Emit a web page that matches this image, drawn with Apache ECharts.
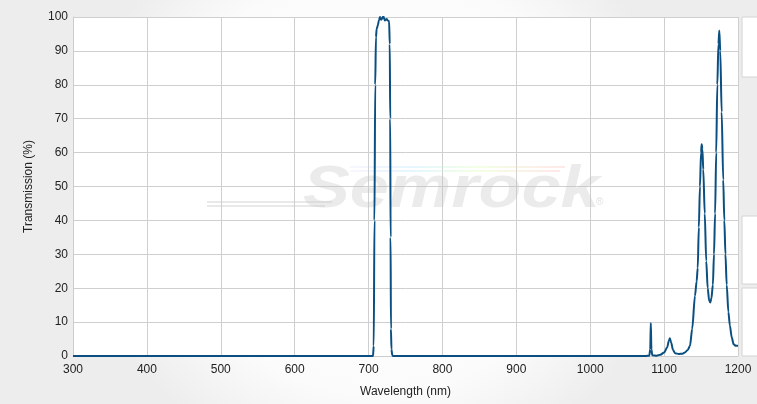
<!DOCTYPE html>
<html>
<head>
<meta charset="utf-8">
<script src="https://cdn.jsdelivr.net/npm/echarts@6/dist/echarts.min.js"></script>
<style>
html,body{margin:0;padding:0;width:757px;height:404px;overflow:hidden;}
#c{width:757px;height:404px;}
</style>
</head>
<body>
<div id="c"></div>
<script>
const wavelength = [300,700,706,707,708,709,710,711,712.5,714,715.5,717,718,720,722,724.5,726,727.8,728.7,729.3,729.8,730.3,731,732,733,
1075,1080,1081.2,1082,1082.8,1084,1090,1095,1100,1104,1106.5,1107.8,1109.5,1112,1115,1120,1125,1128,1132,1135,1138,1141.8,1144,1145.5,1147,1148.5,1150,1150.8,1151.8,1153,1155,1157,1159,1161,1162.5,1164,1166,1167.5,1169,1170.5,1172,1173.5,1174.7,1176,1177.9,1180,1181.5,1183,1184.7,1187,1189,1191.5,1194,1197,1200];
const transmission = [0,0,0,3,40,80,94,96.5,97.5,99,100,99.2,99.4,100.2,99,99.4,99,98.8,92,70,35,8,2,0.3,0,
0,0.1,2,9.7,2,0.2,0.1,0.4,1,2.5,4.5,5.2,4,1.8,0.8,0.6,0.7,1,1.8,3,8,17.8,22,26,38,50,60,62.5,61,55,42,28,20,16.3,15.8,17,21,30,42,60,80,92,96,90,72,52,40,30,21,13,9,5.5,3.5,3,3];
const xTicks = {min:300, max:1200, interval:100};
const yTicks = {min:0, max:100, interval:10};

const data = wavelength.map((w,i)=>[w, transmission[i]]);
const chart = echarts.init(document.getElementById('c'));
const rainbow = {type:'linear',x:0,y:0,x2:1,y2:0,colorStops:[{offset:0,color:'rgba(200,200,255,0.15)'},{offset:0.3,color:'rgba(180,230,255,0.35)'},{offset:0.6,color:'rgba(220,255,180,0.35)'},{offset:1,color:'rgba(255,190,190,0.35)'}]};
chart.setOption({
  animation:false,
  backgroundColor:{type:'radial',x:0.5,y:0.45,r:0.75,colorStops:[{offset:0,color:'#ffffff'},{offset:0.7,color:'#fbfbfb'},{offset:1,color:'#ededed'}]},
  grid:{left:73,right:19,top:17,bottom:48,show:true,backgroundColor:'#ffffff',borderWidth:0},
  graphic:[
    {type:'rect',shape:{x:742,y:17,width:30,height:60},style:{fill:'#ffffff',stroke:'#d4d4d4',lineWidth:1},silent:true},
    {type:'rect',shape:{x:742,y:216,width:30,height:68},style:{fill:'#ffffff',stroke:'#d4d4d4',lineWidth:1},silent:true},
    {type:'rect',shape:{x:742,y:288,width:30,height:68},style:{fill:'#ffffff',stroke:'#d4d4d4',lineWidth:1},silent:true},
    {type:'text',x:303,y:160,scaleX:1.17,z:1,silent:true,style:{text:'Semrock',font:'italic bold 60px "Liberation Sans", Arial, sans-serif',fill:'rgba(195,195,195,0.33)'}},
    {type:'text',x:596,y:197,z:1,silent:true,style:{text:'®',font:'10px "Liberation Sans", Arial, sans-serif',fill:'rgba(195,195,195,0.5)'}},
    {type:'rect',z:1,silent:true,shape:{x:207,y:201,width:125,height:2},style:{fill:'rgba(200,200,200,0.4)'}},
    {type:'rect',z:1,silent:true,shape:{x:207,y:205,width:118,height:2},style:{fill:'rgba(200,200,200,0.4)'}},
    {type:'rect',z:1,silent:true,shape:{x:350,y:166,width:215,height:2},style:{fill:rainbow}},
    {type:'rect',z:1,silent:true,shape:{x:350,y:170,width:210,height:2},style:{fill:rainbow}}
  ],
  xAxis:{type:'value',min:xTicks.min,max:xTicks.max,interval:xTicks.interval,
    name:'Wavelength (nm)',nameLocation:'middle',nameGap:30,
    nameTextStyle:{fontFamily:'Liberation Sans, Arial, sans-serif',fontSize:12,color:'#222'},
    axisLine:{show:true,lineStyle:{color:'#cccccc'}},axisTick:{show:false},
    axisLabel:{margin:8,formatter:v=>String(v),fontFamily:'Liberation Sans, Arial, sans-serif',fontSize:12,color:'#222'},
    splitLine:{show:true,lineStyle:{color:'#cfcfcf',width:1}}},
  yAxis:{type:'value',min:yTicks.min,max:yTicks.max,interval:yTicks.interval,
    name:'Transmission (%)',nameLocation:'middle',nameGap:38,
    nameTextStyle:{fontFamily:'Liberation Sans, Arial, sans-serif',fontSize:12,color:'#222'},
    axisLine:{show:true,lineStyle:{color:'#cccccc'}},axisTick:{show:false},
    axisLabel:{margin:5,formatter:v=>String(v),fontFamily:'Liberation Sans, Arial, sans-serif',fontSize:12,color:'#222'},
    splitLine:{show:true,lineStyle:{color:'#cfcfcf',width:1}}},
  series:[{type:'line',data:data,showSymbol:false,smooth:0.3,smoothMonotone:'x',z:3,
    lineStyle:{color:'#0b4f80',width:2},itemStyle:{color:'#0b4f80'}}]
});
</script>
</body>
</html>
